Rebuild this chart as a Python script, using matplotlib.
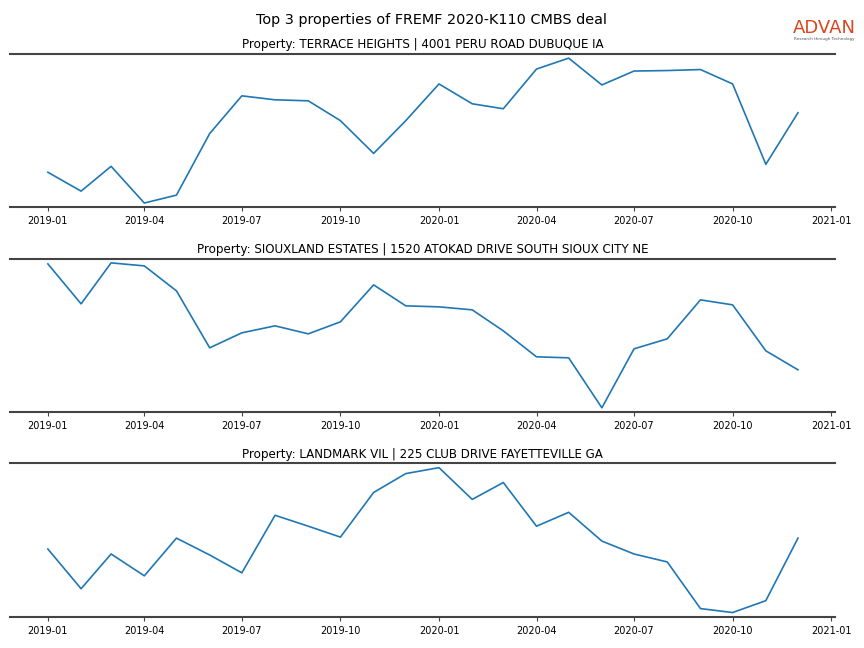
import matplotlib
matplotlib.use("Agg")
import matplotlib.pyplot as plt
import matplotlib.dates as mdates
import pandas as pd

months = pd.date_range("2019-01-01", "2020-12-01", freq="MS")

titles = [
    "Property: TERRACE HEIGHTS | 4001 PERU ROAD DUBUQUE IA",
    "Property: SIOUXLAND ESTATES | 1520 ATOKAD DRIVE SOUTH SIOUX CITY NE",
    "Property: LANDMARK VIL | 225 CLUB DRIVE FAYETTEVILLE GA",
]

# relative foot traffic index
terrace = [34, 15, 40, 3, 11, 73, 111, 107, 106, 86, 53, 86,
           123, 103, 98, 138, 149, 122, 136, 136.5, 137.5, 123, 42, 94]
siouxland = [147, 107, 148, 145, 120, 63, 78, 85, 77, 89, 126, 105,
             104, 101, 80, 54, 53, 3, 62, 72, 111, 106, 60, 41]
landmark = [68, 28, 63, 41, 79, 62, 44, 102, 91, 80, 125, 144,
            150, 118, 135, 91, 105, 76, 63, 55, 8, 4, 16, 79]

series = [terrace, siouxland, landmark]

fig, axes = plt.subplots(3, 1, figsize=(8.64, 6.48), dpi=100)
fig.subplots_adjust(left=0.012, right=0.967, top=0.917, bottom=0.048, hspace=0.333)

for ax, title, vals in zip(axes, titles, series):
    ax.plot(months, vals, color="tab:blue", linewidth=1.2)
    ax.set_title(title, fontsize=8.6, pad=4)
    ax.margins(y=0.03)
    ax.spines["left"].set_visible(False)
    ax.spines["right"].set_visible(False)
    for s in ("top", "bottom"):
        ax.spines[s].set_color("#444444")
        ax.spines[s].set_linewidth(1.5)
    ax.set_yticks([])
    ax.xaxis.set_major_locator(mdates.MonthLocator(bymonth=[1, 4, 7, 10]))
    ax.xaxis.set_major_formatter(mdates.DateFormatter("%Y-%m"))
    ax.tick_params(axis="x", labelsize=7, length=3, color="#444444")

fig.suptitle("Top 3 properties of FREMF 2020-K110 CMBS deal", fontsize=10.4, y=0.98)

# logo
fig.text(0.954, 0.957, "ADVAN", color="#d9461e", fontsize=13, fontweight="medium",
         ha="center", va="center")
fig.text(0.954, 0.94, "Research through Technology", color="#555555", fontsize=3,
         ha="center", va="center")

fig.savefig("out.png", dpi=100)
